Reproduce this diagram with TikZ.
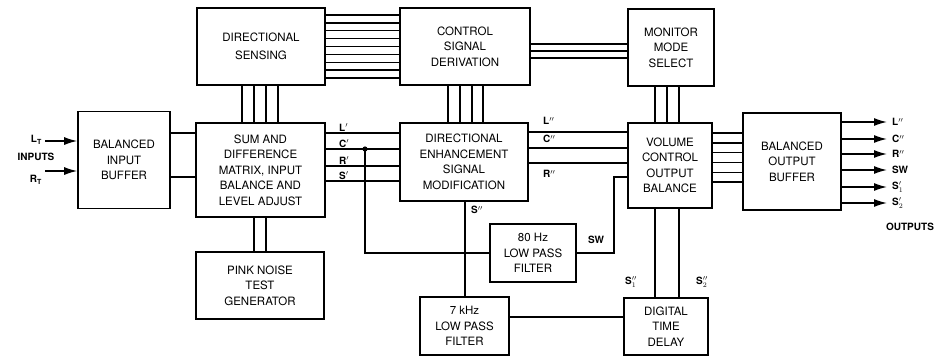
\documentclass[tikz,border=0pt]{standalone}
\usepackage{fontspec}
\setmainfont{TeX Gyre Heros}
\usetikzlibrary{arrows.meta,calc}
\begin{document}
\begin{tikzpicture}[x=1pt,y=-1pt,
  blk/.style={draw,line width=1.6pt,align=center,inner sep=0pt,font=\fontsize{11.5}{15.5}\selectfont},
  wire/.style={line width=1.4pt},
  lbl/.style={font=\fontsize{10}{11}\selectfont\bfseries,inner sep=0pt},
  arr/.style={wire,-{Latex[length=13pt,width=8pt]}}]
\useasboundingbox (0,0) rectangle (938,357);
\fill[white] (0,0) rectangle (938,357);

% blocks
\node[blk,minimum width=92pt,minimum height=97pt] (ibuf) at (124,160) {BALANCED\\INPUT\\BUFFER};
\node[blk,minimum width=128pt,minimum height=77pt] (sense) at (261,46.5) {DIRECTIONAL\\[2pt]SENSING};
\node[blk,minimum width=129pt,minimum height=94pt] (sumdiff) at (260.5,170) {SUM AND\\DIFFERENCE\\MATRIX, INPUT\\BALANCE AND\\LEVEL ADJUST};
\node[blk,minimum width=128pt,minimum height=67pt] (pink) at (260,285.5) {PINK NOISE\\TEST\\GENERATOR};
\node[blk,minimum width=130pt,minimum height=77pt] (ctrl) at (465,46.5) {CONTROL\\SIGNAL\\DERIVATION};
\node[blk,minimum width=128pt,minimum height=78pt] (enh) at (464,162) {DIRECTIONAL\\ENHANCEMENT\\SIGNAL\\MODIFICATION};
\node[blk,minimum width=86pt,minimum height=58pt] (lp80) at (533,253) {80 Hz\\LOW PASS\\FILTER};
\node[blk,minimum width=89pt,minimum height=58pt] (lp7) at (464.5,326) {7 kHz\\LOW PASS\\FILTER};
\node[blk,minimum width=86pt,minimum height=77pt] (mon) at (671,47.5) {MONITOR\\MODE\\SELECT};
\node[blk,minimum width=84pt,minimum height=85pt] (vol) at (670,165.5) {VOLUME\\CONTROL\\OUTPUT\\BALANCE};
\node[blk,minimum width=84pt,minimum height=57pt] (dtd) at (666,326.5) {DIGITAL\\TIME\\DELAY};
\node[blk,minimum width=98pt,minimum height=97pt] (obuf) at (792,161.5) {BALANCED\\OUTPUT\\BUFFER};

% inputs
\coordinate (lin) at (45,141);
\coordinate (rin) at (45,171);
\draw[arr] (lin) -- (lin -| ibuf.west);
\draw[arr] (rin) -- (rin -| ibuf.west);
\node[lbl,anchor=east] (lt) at (42,140) {L\textsubscript{T}};
\node[lbl,anchor=east] (rt) at (42,180) {R\textsubscript{T}};
\node[lbl] (inputs) at (36,157) {INPUTS};

% input buffer to matrix
\foreach \y in {133,177} \draw[wire] (ibuf.east |- 0,\y) -- (sumdiff.west |- 0,\y);

% sensing <-> control
\foreach \i [evaluate=\i as \y using 15+7.875*\i] in {0,...,8}
  \draw[wire] (sense.east |- 0,\y) -- (ctrl.west |- 0,\y);

% sensing <-> matrix
\foreach \x in {242,254,266,278} \draw[wire] (\x,0 |- sense.south) -- (\x,0 |- sumdiff.north);
% matrix <-> pink noise
\foreach \x in {254,266} \draw[wire] (\x,0 |- sumdiff.south) -- (\x,0 |- pink.north);

% matrix -> enhancement
\foreach \y/\t in {133/L,149/C,166/R,181/S} {
  \draw[wire] (sumdiff.east |- 0,\y) -- (enh.west |- 0,\y);
  \node[lbl,anchor=south west] at (339,\y-1.5) {\t$'$};
}

% control <-> enhancement
\foreach \x in {448,460,472,483} \draw[wire] (\x,0 |- ctrl.south) -- (\x,0 |- enh.north);
% control <-> monitor
\foreach \y in {44,51,58} \draw[wire] (ctrl.east |- 0,\y) -- (mon.west |- 0,\y);
% monitor <-> volume
\foreach \x in {655,667,679} \draw[wire] (\x,0 |- mon.south) -- (\x,0 |- vol.north);

% enhancement -> volume
\foreach \y in {132,148,163} \draw[wire] (enh.east |- 0,\y) -- (vol.west |- 0,\y);
\node[lbl,anchor=west] at (543,121) {L$''$};
\node[lbl,anchor=west] at (543,139) {C$''$};
\node[lbl,anchor=west] at (543,174) {R$''$};

% C' tap to 80 Hz filter
\coordinate (cdot) at (365,149);
\fill (cdot) circle (2.6pt);
\draw[wire] (cdot) |- (lp80.west);

% SW
\coordinate (swc) at (614,177);
\draw[wire] (lp80.east) -| (swc) -- (swc -| vol.west);
\node[lbl] at (596,240) {SW};

% S''
\draw[wire] (465,0 |- enh.south) -- (465,0 |- lp7.north);
\node[lbl] at (477,210) {S$''$};

% 7 kHz -> delay
\draw[wire] (lp7.east |- 0,317) -- (dtd.west |- 0,317);

% volume <-> delay
\foreach \x in {655,679} \draw[wire] (\x,0 |- vol.south) -- (\x,0 |- dtd.north);
\node[lbl] at (631,282) {S$''_1$};
\node[lbl] at (702,282) {S$''_2$};

% volume -> output buffer
\foreach \i [evaluate=\i as \y using 133+9.8*\i] in {0,...,5}
  \draw[wire] (vol.east |- 0,\y) -- (obuf.west |- 0,\y);

% outputs
\foreach \y/\t in {122/L$''$,139/C$''$,154/R$''$,170/SW,187/S$'_1$,203/S$'_2$} {
  \draw[arr] (obuf.east |- 0,\y) -- (887,\y);
  \node[lbl,anchor=west] at (892,\y) {\t};
}
\node[lbl] (outputs) at (910,227) {OUTPUTS};
\end{tikzpicture}
\end{document}
